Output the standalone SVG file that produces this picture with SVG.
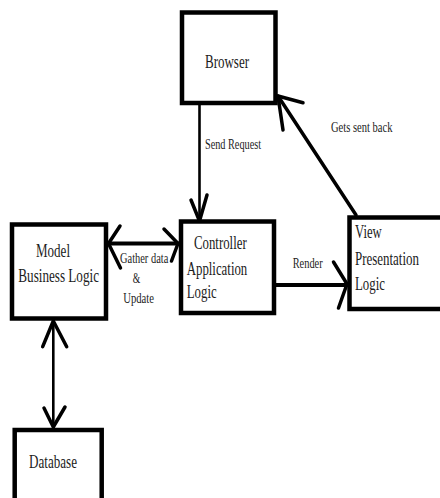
<svg xmlns="http://www.w3.org/2000/svg" width="440" height="498" viewBox="0 0 440 498">
<style>
.box{fill:#fff;stroke:#000;stroke-width:4.5}
.big{font-family:"Liberation Serif","Times New Roman",serif;font-size:18px;fill:#1c1c1c}
.small{font-family:"Liberation Serif","Times New Roman",serif;font-size:15px;fill:#1c1c1c}
.ln{stroke:#000;fill:none;stroke-linecap:round}
.head{stroke:#000;fill:none;stroke-width:3.5;stroke-linecap:round;stroke-linejoin:round}
</style>
<rect width="440" height="498" fill="#fff"/>
<g id="connectors">
  <line class="ln" x1="199.5" y1="105" x2="199.5" y2="221" stroke-width="2.6"/>
  <polyline class="head" points="191,200 199.5,221 207,195"/>
  <text class="small" x="205" y="149.3" textLength="56" lengthAdjust="spacingAndGlyphs">Send Request</text>

  <line class="ln" x1="356" y1="215" x2="278" y2="96" stroke-width="3.5"/>
  <polyline class="head" points="303,102.7 278,96 283,130"/>
  <text class="small" x="331" y="131.7" textLength="61.5" lengthAdjust="spacingAndGlyphs">Gets sent back</text>

  <line class="ln" x1="108" y1="243.5" x2="179" y2="243.5" stroke-width="4"/>
  <polyline class="head" points="120,226 108.5,243.5 120.5,268"/>
  <polyline class="head" points="164,229 178,243.5 171.5,261"/>
  <text class="small" x="120" y="262.7" textLength="48.3" lengthAdjust="spacingAndGlyphs">Gather data</text>
  <text class="small" x="132.7" y="282.7" textLength="7.5" lengthAdjust="spacingAndGlyphs">&amp;</text>
  <text class="small" x="123.3" y="303.3" textLength="30.7" lengthAdjust="spacingAndGlyphs">Update</text>

  <line class="ln" x1="275" y1="285" x2="347" y2="285" stroke-width="4"/>
  <polyline class="head" points="333.5,262 347,284 338.5,308"/>
  <text class="small" x="292.7" y="268.3" textLength="30" lengthAdjust="spacingAndGlyphs">Render</text>

  <line class="ln" x1="53.3" y1="321" x2="53.3" y2="427" stroke-width="2.6"/>
  <polyline class="head" points="42.7,346.7 53.3,321 66.7,346.7"/>
  <polyline class="head" points="44,408 53.3,427 65,407"/>
</g>
<g id="browser">
  <rect class="box" x="182" y="12.5" width="93.5" height="90.5"/>
  <text class="big" x="205" y="68.3" textLength="44" lengthAdjust="spacingAndGlyphs">Browser</text>
</g>
<g id="controller">
  <rect class="box" x="181" y="221.5" width="93" height="91.5"/>
  <text class="big" x="194" y="249.3" textLength="52.7" lengthAdjust="spacingAndGlyphs">Controller</text>
  <text class="big" x="186.7" y="275" textLength="60.6" lengthAdjust="spacingAndGlyphs">Application</text>
  <text class="big" x="186.7" y="298.3" textLength="30" lengthAdjust="spacingAndGlyphs">Logic</text>
</g>
<g id="view">
  <rect class="box" x="349.5" y="217.5" width="93" height="91.5"/>
  <text class="big" x="355" y="238.3" textLength="26.7" lengthAdjust="spacingAndGlyphs">View</text>
  <text class="big" transform="translate(355,265) scale(0.72,1)" x="0" y="0">Presentation</text>
  <text class="big" x="355" y="290" textLength="30" lengthAdjust="spacingAndGlyphs">Logic</text>
</g>
<g id="model">
  <rect class="box" x="12" y="224.5" width="94" height="94"/>
  <text class="big" x="36" y="256.7" textLength="34" lengthAdjust="spacingAndGlyphs">Model</text>
  <text class="big" x="18.3" y="281.7" textLength="80.7" lengthAdjust="spacingAndGlyphs">Business Logic</text>
</g>
<g id="database">
  <rect class="box" x="14.7" y="430" width="87" height="80"/>
  <text class="big" x="29" y="468" textLength="48" lengthAdjust="spacingAndGlyphs">Database</text>
</g>
</svg>
